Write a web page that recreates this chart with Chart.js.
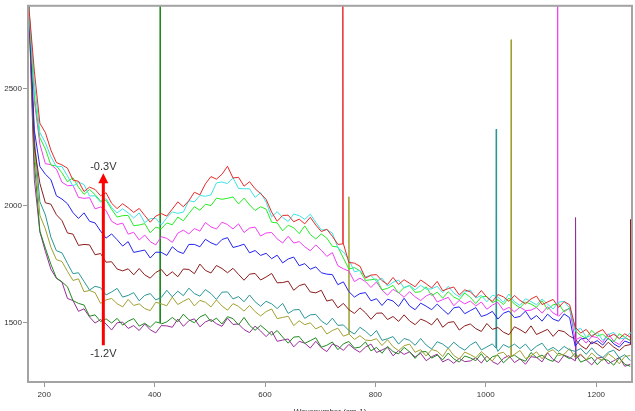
<!DOCTYPE html>
<html>
<head>
<meta charset="utf-8">
<script src="https://cdn.jsdelivr.net/npm/chart.js@4.4.0/dist/chart.umd.min.js"></script>
<style>
  html, body { margin: 0; padding: 0; background: #fff; }
  canvas { display: block; }
</style>
</head>
<body>
<canvas id="spectra" width="635" height="411"></canvas>
<script>
// x grid (cm-1), one value per sample
const wavenumbers = [
  172,182,192,202,212,222,232,242,252,262,
  272,282,292,302,312,322,332,342,352,362,
  372,382,392,402,412,422,432,442,452,462,
  472,482,492,502,512,522,532,542,552,562,
  572,582,592,602,612,622,632,642,652,662,
  672,682,692,702,712,722,732,742,752,762,
  772,782,792,802,812,822,832,842,852,862,
  872,882,892,902,912,922,932,942,952,962,
  972,982,992,1002,1012,1022,1032,1042,1052,1062,
  1072,1082,1092,1102,1112,1122,1132,1142,1152,1162,
  1172,1182,1192,1202,1212,1222,1232,1242,1252,1262
];

const seriesLabels = ["-0.3V","-0.4V","-0.5V","-0.6V","-0.7V","-0.8V","-0.9V","-1.0V","-1.1V","-1.2V"];

const v03 = [
  2850,2574,2351,2311,2236,2183,2173,2159,2108,2103,
  2059,2078,2068,2041,2054,2009,1986,2007,1990,1970,
  1987,1957,1928,1954,1965,1954,1984,2015,1994,2020,
  2056,2045,2092,2123,2112,2133,2167,2117,2120,2082,
  2101,2071,2050,2026,1971,1932,1957,1958,1930,1941,
  1921,1949,1916,1888,1898,1868,1833,1836,1756,1753,
  1740,1689,1702,1704,1678,1662,1692,1662,1682,1667,
  1652,1681,1665,1647,1675,1635,1644,1651,1617,1639,
  1630,1608,1636,1607,1589,1619,1609,1590,1615,1594,
  1579,1600,1612,1576,1587,1598,1564,1589,1575,1480,
  1454,1470,1439,1457,1469,1437,1449,1431,1451,1436
];
const v04 = [
  2850,2525,2312,2268,2208,2165,2166,2126,2082,2099,
  2089,2040,2041,2013,2029,1991,1968,1985,1968,1946,
  1968,1926,1943,1945,1916,1947,1972,1966,1971,2020,
  2015,2042,2039,2045,2096,2100,2093,2118,2072,2071,
  2071,2034,2054,2014,1951,1973,1948,1931,1963,1956,
  1940,1962,1928,1895,1896,1882,1818,1801,1769,1716,
  1722,1695,1700,1675,1689,1655,1671,1681,1647,1658,
  1639,1658,1642,1643,1654,1627,1654,1625,1609,1630,
  1638,1604,1615,1588,1616,1609,1586,1621,1588,1572,
  1601,1589,1575,1600,1578,1557,1586,1590,1561,1464,
  1475,1436,1444,1457,1423,1448,1457,1429,1433,1456
];
const v05 = [
  2850,2467,2289,2241,2172,2169,2139,2101,2118,2078,
  2047,2068,2046,2018,2022,1983,1950,1956,1957,1913,
  1916,1922,1883,1907,1900,1925,1917,1950,1934,1965,
  1994,1979,2005,1999,2031,2026,2030,2036,2006,2031,
  2002,1978,1994,1984,1928,1925,1891,1915,1904,1879,
  1912,1876,1856,1878,1860,1825,1822,1775,1728,1734,
  1720,1679,1682,1685,1639,1645,1658,1625,1649,1657,
  1628,1631,1652,1614,1629,1603,1631,1608,1597,1625,
  1607,1580,1609,1611,1584,1597,1576,1604,1578,1562,
  1587,1578,1564,1592,1555,1575,1580,1544,1563,1464,
  1444,1432,1466,1441,1449,1429,1417,1451,1437,1421
];
const v06 = [
  2850,2447,2262,2178,2174,2155,2099,2084,2085,2034,
  2030,2033,1985,1993,1978,1932,1918,1924,1877,1885,
  1852,1873,1845,1831,1866,1859,1842,1881,1894,1878,
  1901,1890,1927,1908,1899,1928,1918,1899,1921,1884,
  1903,1907,1869,1882,1884,1857,1839,1868,1839,1845,
  1823,1806,1831,1808,1782,1798,1742,1729,1719,1674,
  1689,1674,1649,1673,1638,1616,1641,1627,1607,1631,
  1609,1593,1613,1624,1587,1597,1607,1571,1594,1579,
  1591,1570,1587,1556,1574,1585,1552,1564,1545,1565,
  1550,1552,1564,1539,1567,1540,1526,1550,1559,1424,
  1437,1411,1440,1435,1414,1451,1419,1405,1434,1423
];
const v07 = [
  2850,2321,2166,2133,2110,2041,2027,2007,1969,1944,
  1968,1932,1925,1890,1860,1878,1853,1826,1845,1799,
  1804,1809,1775,1800,1799,1786,1823,1803,1794,1833,
  1833,1823,1855,1840,1830,1854,1862,1820,1826,1834,
  1797,1807,1786,1795,1772,1787,1754,1771,1779,1742,
  1751,1727,1737,1712,1706,1704,1661,1673,1631,1608,
  1623,1627,1592,1601,1572,1599,1591,1568,1603,1570,
  1554,1582,1569,1554,1578,1555,1534,1562,1566,1537,
  1550,1563,1525,1533,1547,1514,1539,1548,1520,1525,
  1548,1512,1529,1505,1535,1514,1505,1536,1520,1398,
  1429,1433,1408,1422,1403,1433,1408,1394,1420,1411
];
const v08 = [
  2850,2251,2094,2011,2005,1960,1935,1882,1877,1829,
  1833,1831,1789,1794,1757,1759,1728,1720,1729,1703,
  1730,1703,1689,1713,1726,1698,1716,1695,1728,1726,
  1708,1749,1722,1711,1743,1730,1712,1731,1705,1680,
  1706,1709,1681,1694,1709,1669,1670,1676,1637,1657,
  1664,1630,1626,1637,1591,1597,1562,1581,1554,1538,
  1562,1541,1513,1539,1540,1512,1525,1504,1532,1506,
  1490,1514,1504,1489,1517,1479,1499,1503,1467,1485,
  1493,1473,1461,1495,1470,1478,1458,1447,1481,1469,
  1454,1485,1448,1459,1470,1440,1466,1460,1441,1428,
  1401,1385,1417,1408,1390,1415,1394,1379,1400,1412
];
const v09 = [
  2850,2286,2016,1959,1864,1806,1797,1752,1708,1712,
  1675,1638,1654,1648,1617,1630,1645,1608,1615,1627,
  1592,1615,1623,1596,1606,1637,1609,1633,1614,1646,
  1623,1612,1640,1623,1598,1629,1630,1600,1610,1588,
  1617,1588,1569,1590,1579,1559,1581,1538,1553,1555,
  1517,1532,1534,1506,1490,1518,1487,1489,1465,1450,
  1479,1462,1441,1465,1423,1430,1439,1407,1431,1423,
  1402,1431,1403,1386,1417,1407,1389,1415,1395,1381,
  1403,1417,1382,1395,1408,1376,1405,1393,1407,1388,
  1407,1378,1398,1411,1380,1393,1376,1397,1382,1376,
  1388,1363,1391,1364,1349,1372,1381,1348,1362,1336
];
const v10 = [
  2850,2236,1958,1899,1821,1768,1760,1718,1679,1686,
  1631,1636,1627,1581,1596,1602,1580,1566,1598,1572,
  1579,1559,1550,1586,1579,1571,1608,1576,1590,1602,
  1570,1594,1586,1566,1596,1570,1552,1580,1568,1548,
  1572,1546,1527,1546,1557,1516,1521,1526,1486,1507,
  1490,1498,1472,1484,1450,1465,1475,1441,1449,1427,
  1443,1424,1422,1430,1401,1426,1396,1379,1400,1407,
  1372,1383,1356,1384,1377,1354,1390,1358,1343,1373,
  1362,1349,1375,1354,1335,1366,1372,1347,1363,1380,
  1345,1357,1374,1344,1372,1383,1358,1364,1388,1349,
  1365,1340,1369,1347,1337,1366,1349,1323,1354,1358
];
const v11 = [
  2850,2186,1890,1817,1748,1690,1673,1652,1593,1581,
  1574,1526,1532,1503,1515,1497,1517,1488,1505,1516,
  1484,1496,1479,1502,1493,1502,1521,1502,1535,1511,
  1498,1523,1534,1503,1518,1493,1524,1516,1489,1521,
  1487,1466,1487,1467,1446,1465,1437,1411,1437,1439,
  1410,1422,1434,1394,1402,1416,1383,1408,1418,1390,
  1394,1416,1378,1393,1368,1397,1375,1365,1393,1374,
  1346,1374,1375,1347,1360,1340,1369,1344,1330,1356,
  1348,1336,1366,1331,1353,1360,1327,1349,1360,1343,
  1334,1371,1349,1360,1342,1333,1369,1358,1344,1368,
  1330,1340,1350,1319,1344,1337,1317,1348,1321,1312
];
const v12 = [
  2850,2110,1887,1803,1727,1688,1672,1602,1593,1547,
  1558,1523,1497,1512,1493,1467,1498,1501,1474,1486,
  1465,1493,1468,1455,1486,1485,1479,1514,1483,1507,
  1515,1481,1502,1512,1494,1483,1518,1491,1493,1469,
  1456,1484,1463,1439,1463,1419,1424,1429,1395,1419,
  1411,1390,1419,1391,1375,1407,1398,1380,1406,1386,
  1372,1394,1407,1371,1382,1393,1357,1379,1363,1374,
  1352,1368,1336,1353,1364,1331,1343,1325,1346,1332,
  1335,1349,1326,1356,1332,1320,1346,1358,1328,1344,
  1321,1353,1350,1331,1370,1341,1328,1360,1350,1336,
  1361,1339,1318,1347,1351,1323,1336,1350,1312,1321
];

// narrow cosmic-ray spikes: which series, where, how high, level either side
const spikeSeries = [8, 0, 7, 6, 7, 3, 9, 5, 1];
const spikeX      = [410, 741, 752, 1019, 1046, 1130, 1163, 1262.5, 1264];
const spikeTop    = [3000, 3000, 2037, 2326, 2708, 3000, 1948, 1940, 1973];
const spikeBase   = [1497, 1835, 1449, 1390, 1355, 1530, 1345, 1405, 1450];

const xTicks = [200, 400, 600, 800, 1000, 1200];
const yTicks = [1500, 2000, 2500];

// arrow annotation (data coords)
const arrowX = 307;
const arrowFrom = 1402;
const arrowTo = 2137;
const topLabelY = 2166;
const bottomLabelY = 1364;

const seriesValues = [v03, v04, v05, v06, v07, v08, v09, v10, v11, v12];
const seriesColors = ["#e62a2a", "#3fe3e3", "#26ec26", "#f23ef2", "#2323f0",
                      "#8c1c1c", "#2a9696", "#a0a032", "#1f8a1f", "#9a2e9a"];

function buildPoints(values, idx) {
    const pts = wavenumbers.map((x, i) => ({ x: x, y: values[i] }));
    spikeSeries.forEach((s, k) => {
        if (s !== idx) return;
        pts.push({ x: spikeX[k] - 0.6, y: spikeBase[k] },
                 { x: spikeX[k], y: spikeTop[k] },
                 { x: spikeX[k] + 0.6, y: spikeBase[k] });
    });
    return pts.sort((a, b) => a.x - b.x);
}

const datasets = seriesValues.map((vals, i) => ({
    label: seriesLabels[i],
    data: buildPoints(vals, i),
    borderColor: seriesColors[i],
    borderWidth: 1,
    pointRadius: 0,
    fill: false,
    tension: 0
}));

const framePlugin = {
    id: "frameAndArrow",
    afterDatasetsDraw(chart) {
        const { ctx, chartArea: a, scales } = chart;
        const x = scales.x.getPixelForValue(arrowX);
        const yTop = scales.y.getPixelForValue(arrowTo);
        const yBot = scales.y.getPixelForValue(arrowFrom);
        ctx.save();

        // arrow
        ctx.strokeStyle = "#ff0000";
        ctx.fillStyle = "#ff0000";
        ctx.lineWidth = 3;
        ctx.beginPath();
        ctx.moveTo(x, yBot);
        ctx.lineTo(x, yTop + 9);
        ctx.stroke();
        ctx.beginPath();
        ctx.moveTo(x, yTop);
        ctx.lineTo(x - 5, yTop + 10);
        ctx.lineTo(x + 5, yTop + 10);
        ctx.closePath();
        ctx.fill();

        ctx.fillStyle = "#333";
        ctx.font = '11px "Liberation Sans", Arial, sans-serif';
        ctx.textAlign = "center";
        ctx.textBaseline = "middle";
        ctx.fillText("-0.3V", x, scales.y.getPixelForValue(topLabelY));
        ctx.fillText("-1.2V", x, scales.y.getPixelForValue(bottomLabelY));

        // plot frame
        ctx.strokeStyle = "#a3a3a3";
        ctx.lineWidth = 2;
        ctx.strokeRect(a.left, a.top, a.right - a.left, a.bottom - a.top);
        ctx.restore();
    }
};

Chart.defaults.font.family = '"Liberation Sans", Arial, sans-serif';
Chart.defaults.font.size = 8;
Chart.defaults.color = "#333";

new Chart(document.getElementById("spectra").getContext("2d"), {
    type: "line",
    data: { datasets },
    options: {
        responsive: false,
        animation: false,
        layout: { padding: { left: 0, right: 3, top: 3, bottom: 0 } },
        plugins: { legend: { display: false }, tooltip: { enabled: false } },
        scales: {
            x: {
                type: "linear",
                min: 170.5,
                max: 1265,
                afterBuildTicks: s => { s.ticks = xTicks.map(v => ({ value: v })); },
                afterFit: s => { s.height = 29; },
                ticks: { padding: 3, callback: v => String(v), maxRotation: 0 },
                grid: { drawOnChartArea: false, tickLength: 5, tickColor: "#999" },
                border: { display: false },
                title: { display: true, text: "Wavenumber (cm-1)", padding: { top: 0, bottom: -6 } }
            },
            y: {
                min: 1245,
                max: 2853,
                afterBuildTicks: s => { s.ticks = yTicks.map(v => ({ value: v })); },
                afterFit: s => { s.width = 28; },
                ticks: { padding: 1, callback: v => String(v) },
                grid: { drawOnChartArea: false, tickLength: 5, tickColor: "#999" },
                border: { display: false }
            }
        }
    },
    plugins: [framePlugin]
});
</script>
</body>
</html>
